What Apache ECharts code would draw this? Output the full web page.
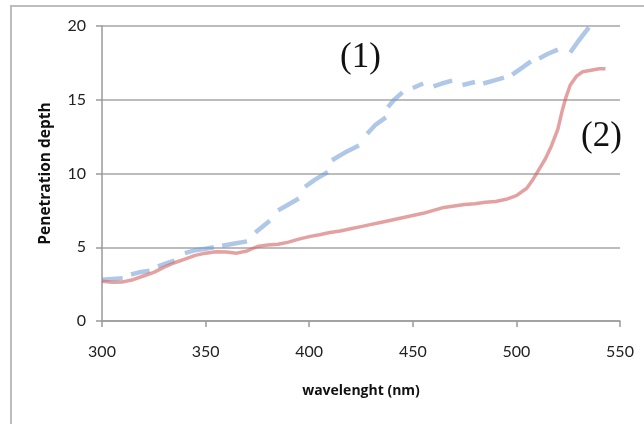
<!DOCTYPE html>
<html>
<head>
<meta charset="utf-8">
<script src="https://cdn.jsdelivr.net/npm/echarts@6/dist/echarts.min.js"></script>
<style>
  html, body { margin: 0; padding: 0; background: #fff; }
  #chart { width: 644px; height: 424px; }
</style>
</head>
<body>
<div id="chart"></div>
<script>
// Sample (1): measured in short bursts, null marks a gap between bursts
const wl1 = [300, 305, 310, null, 314, 318, 323, null, 327, 331, 335, null,
  340, 345, 350, 354, null, 358, 364, 370, null, 374, 381, null,
  385, 390, 395, null, 398, 403, 409, null, 411, 417, 424, null,
  428, 432, 437, null, 438, 441, 445, null, 450, 455, null,
  460, 464, 469, null, 474, 480, null, 484, 489, 494, null,
  498, 503, 507, null, 511, 515, 520, null, 526, 530, 535];
const depth1 = [2.8, 2.85, 2.9, null, 3.15, 3.3, 3.4, null, 3.7, 3.9, 4.1, null,
  4.6, 4.8, 4.9, 5.0, null, 5.1, 5.25, 5.4, null, 6.0, 6.8, null,
  7.5, 7.9, 8.3, null, 9.1, 9.6, 10.1, null, 10.9, 11.4, 11.9, null,
  12.7, 13.3, 13.8, null, 14.5, 15.0, 15.5, null, 15.8, 16.1, null,
  15.9, 16.1, 16.3, null, 16.0, 16.2, null, 16.1, 16.3, 16.5, null,
  16.7, 17.2, 17.6, null, 17.8, 18.1, 18.4, null, 18.2, 19.0, 19.9];

// Sample (2): continuous scan
const wl2 = [300, 305, 310, 315, 320, 325, 330, 335, 340, 345, 350, 355, 360, 365,
  370, 375, 380, 385, 390, 395, 400, 405, 410, 415, 420, 425, 430, 435, 440, 445,
  450, 455, 460, 465, 470, 475, 480, 485, 490, 495, 500, 505, 508, 511, 514, 517,
  520, 522, 524, 526, 529, 532, 536, 540, 543];
const depth2 = [2.7, 2.62, 2.65, 2.8, 3.05, 3.3, 3.65, 3.95, 4.2, 4.45, 4.6, 4.7, 4.68, 4.6,
  4.75, 5.05, 5.15, 5.2, 5.35, 5.55, 5.72, 5.85, 6.0, 6.1, 6.25, 6.4, 6.55, 6.7, 6.85, 7.0,
  7.15, 7.3, 7.5, 7.7, 7.8, 7.9, 7.95, 8.05, 8.1, 8.25, 8.5, 9.0, 9.6, 10.3, 11.0, 11.9,
  13.0, 14.2, 15.2, 16.0, 16.6, 16.9, 17.0, 17.1, 17.1];

const xTicks = [300, 350, 400, 450, 500, 550];
const yTicks = [0, 5, 10, 15, 20];

function pairs(xs, ys) {
  return xs.map((x, i) => (x === null || ys[i] === null) ? '-' : [x, ys[i]]);
}

const tickFont = 'Lato, "Open Sans", sans-serif';
const titleFont = '"Open Sans", Lato, sans-serif';
const chart = echarts.init(document.getElementById('chart'), null, { renderer: 'canvas' });

chart.setOption({
  animation: false,
  backgroundColor: '#ffffff',
  grid: { left: 102, right: 24, top: 26, bottom: 103 },
  xAxis: {
    type: 'value',
    min: xTicks[0],
    max: xTicks[xTicks.length - 1],
    interval: xTicks[1] - xTicks[0],
    name: 'wavelenght (nm)',
    nameLocation: 'middle',
    nameGap: 63,
    nameTextStyle: { fontFamily: titleFont, fontWeight: 'bold', fontSize: 14, color: '#111' },
    axisLine: { show: true, lineStyle: { color: '#9a9a9a', width: 1.5 } },
    axisTick: { show: true, length: 6, lineStyle: { color: '#9a9a9a', width: 1.5 } },
    axisLabel: { fontFamily: tickFont, fontSize: 16, color: '#222', margin: 23 },
    splitLine: { show: false }
  },
  yAxis: {
    type: 'value',
    min: yTicks[0],
    max: yTicks[yTicks.length - 1],
    interval: yTicks[1] - yTicks[0],
    name: 'Penetration depth',
    nameLocation: 'middle',
    nameGap: 48,
    nameTextStyle: { fontFamily: titleFont, fontWeight: 'bold', fontSize: 15.5, color: '#111' },
    axisLine: { show: true, lineStyle: { color: '#9a9a9a', width: 1.5 } },
    axisTick: { show: true, length: 6, lineStyle: { color: '#9a9a9a', width: 1.5 } },
    axisLabel: { fontFamily: tickFont, fontSize: 16, color: '#222', margin: 16 },
    splitLine: { show: true, lineStyle: { color: '#a6a6a6', width: 1.5 } }
  },
  series: [
    {
      name: '(1)',
      type: 'line',
      data: pairs(wl1, depth1),
      connectNulls: false,
      showSymbol: false,
      lineStyle: { color: '#6f9ad6', width: 4.5, opacity: 0.55 }
    },
    {
      name: '(2)',
      type: 'line',
      data: pairs(wl2, depth2),
      showSymbol: false,
      lineStyle: { color: '#d06463', width: 3.5, opacity: 0.6 }
    }
  ],
  graphic: [
    {
      type: 'polyline',
      shape: { points: [[11, 424], [11, 6], [644, 6]] },
      style: { stroke: '#bdbdbd', lineWidth: 2, fill: null }
    },
    {
      type: 'text',
      left: 340, top: 40,
      style: { text: '(1)', font: '35px "Liberation Serif", serif', fill: '#111' }
    },
    {
      type: 'text',
      left: 581, top: 119,
      style: { text: '(2)', font: '35px "Liberation Serif", serif', fill: '#111' }
    }
  ]
});
</script>
</body>
</html>
